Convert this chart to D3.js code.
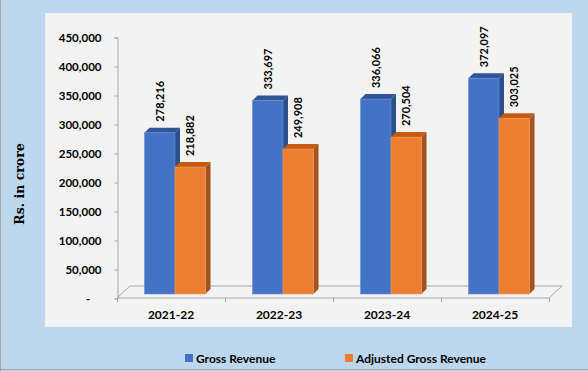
<!DOCTYPE html>
<html lang="en">
<head>
    <meta charset="utf-8">
    <title>Gross Revenue</title>
    <script src="https://cdnjs.cloudflare.com/ajax/libs/d3/7.8.5/d3.min.js"></script>
    <style>
        body { margin: 0; background: #fff; }
        svg text { font-family: Lato, "Open Sans", sans-serif; font-weight: bold; fill: #000; }
        .ytitle { font-family: "DejaVu Serif", serif; }
    </style>
</head>
<body>
<div id="chart"></div>
<script>
    // data
    var categories = ["2021-22", "2022-23", "2023-24", "2024-25"];
    var seriesNames = ["Gross Revenue", "Adjusted Gross Revenue"];
    var grossRevenue = [278216, 333697, 336066, 372097];
    var adjustedGrossRevenue = [218882, 249908, 270504, 303025];
    var yTicks = [0, 50000, 100000, 150000, 200000, 250000, 300000, 350000, 400000, 450000];

    var W = 588, H = 371;
    var colors = [
        {front: "#4472C4", top: "#2F5597", side: "#2B4F8C", edge: "#6A8FD4"},
        {front: "#ED7D31", top: "#C55A11", side: "#A5531C", edge: "#F29A5C"}
    ];

    var svg = d3.select("#chart").append("svg")
        .attr("width", W)
        .attr("height", H);

    // backgrounds
    svg.append("rect").attr("width", W).attr("height", H).attr("fill", "#BDD7EE");
    svg.append("line").attr("x1", 0.5).attr("x2", 0.5).attr("y1", 0).attr("y2", H)
        .attr("stroke", "#A6A6A6");
    svg.append("line").attr("x1", 0).attr("x2", W).attr("y1", 369.5).attr("y2", 369.5)
        .attr("stroke", "#A6A6A6");
    svg.append("rect").attr("x", 45).attr("y", 13).attr("width", 527).attr("height", 314)
        .attr("fill", "#F3F3F3");

    var plotLeft = 117, plotRight = 549, plotBase = 298, plotTop = 37;
    var depthX = 13, depthY = -12;   // floor depth
    var shiftX = 4, shiftY = -4;     // bars sit a bit inside the floor
    var barDX = 5, barDY = -5;       // bar depth

    var y = d3.scaleLinear().domain([0, 450000]).range([plotBase, plotTop]);
    var x = d3.scaleBand().domain(categories).range([plotLeft, plotRight])
        .paddingInner(0.435).paddingOuter(0.2175);
    var xs = d3.scaleBand().domain([0, 1]).range([0, x.bandwidth()]);

    // floor
    svg.append("path")
        .attr("d", "M" + plotLeft + "," + plotBase + "L" + (plotLeft + depthX) + "," + (plotBase + depthY) +
            "L" + (plotRight + depthX) + "," + (plotBase + depthY) + "L" + plotRight + "," + plotBase + "Z")
        .attr("fill", "#F3F3F3")
        .attr("stroke", "#A6A6A6")
        .attr("stroke-width", 1);

    // y axis
    var yAxis = d3.axisLeft(y).tickValues(yTicks).tickSize(3).tickPadding(13)
        .tickFormat(function(d) { return d === 0 ? "-    " : d3.format(",")(d); });
    var gy = svg.append("g").attr("transform", "translate(" + (plotLeft + 0.5) + ",0.5)").call(yAxis);
    gy.select(".domain").attr("stroke", "#A6A6A6");
    gy.selectAll(".tick line").attr("stroke", "#A6A6A6");
    gy.selectAll("text").style("font-size", "11.5px").attr("dy", "0.35em")
        .style("white-space", "pre");

    // x axis ticks at category boundaries
    var bounds = d3.range(categories.length + 1).map(function(i) { return plotLeft + i * x.step(); });
    svg.selectAll("line.xtick").data(bounds).enter().append("line")
        .attr("class", "xtick")
        .attr("x1", function(d) { return d + 0.5; })
        .attr("x2", function(d) { return d + 0.5; })
        .attr("y1", plotBase).attr("y2", plotBase + 4)
        .attr("stroke", "#A6A6A6");

    svg.selectAll("text.xlab").data(categories).enter().append("text")
        .attr("class", "xlab")
        .attr("x", function(d) { return x(d) + x.bandwidth() / 2; })
        .attr("y", 319)
        .attr("text-anchor", "middle")
        .style("font-size", "12px")
        .text(function(d) { return d; });

    // bars
    var rows = [];
    categories.forEach(function(c, i) {
        rows.push({cat: c, s: 0, v: grossRevenue[i]});
        rows.push({cat: c, s: 1, v: adjustedGrossRevenue[i]});
    });

    var bar = svg.selectAll("g.bar").data(rows).enter().append("g").attr("class", "bar");

    bar.each(function(d) {
        var g = d3.select(this);
        var x0 = x(d.cat) + xs(d.s) + shiftX;
        var x1 = x0 + xs.bandwidth();
        var y0 = y(0) + shiftY;
        var y1 = y(d.v) + shiftY;
        var c = colors[d.s];
        // side
        g.append("path")
            .attr("d", "M" + x1 + "," + y1 + "L" + (x1 + barDX) + "," + (y1 + barDY) +
                "L" + (x1 + barDX) + "," + (y0 + barDY) + "L" + x1 + "," + y0 + "Z")
            .attr("fill", c.side);
        // top
        g.append("path")
            .attr("d", "M" + x0 + "," + y1 + "L" + (x0 + barDX) + "," + (y1 + barDY) +
                "L" + (x1 + barDX) + "," + (y1 + barDY) + "L" + x1 + "," + y1 + "Z")
            .attr("fill", c.top);
        // front
        g.append("rect")
            .attr("x", x0).attr("y", y1)
            .attr("width", xs.bandwidth()).attr("height", y0 - y1)
            .attr("fill", c.front)
            .attr("stroke", c.edge)
            .attr("stroke-width", 0.6);
        // value label
        var lx = (x0 + x1) / 2 + 4, ly = y1 + barDY - 6;
        g.append("text")
            .attr("transform", "translate(" + lx + "," + ly + ") rotate(-90)")
            .attr("text-anchor", "start")
            .style("font-size", "11px")
            .text(d3.format(",")(d.v));
    });

    // y title
    svg.append("text")
        .attr("class", "ytitle")
        .attr("transform", "translate(24,184) rotate(-90)")
        .attr("text-anchor", "middle")
        .style("font-size", "12.5px")
        .text("Rs. in crore");

    // legend
    var legendX = [185, 345];
    var lg = svg.selectAll("g.legend").data(seriesNames).enter().append("g")
        .attr("class", "legend")
        .attr("transform", function(d, i) { return "translate(" + legendX[i] + ",354)"; });
    lg.append("rect").attr("width", 8).attr("height", 8)
        .attr("fill", function(d, i) { return colors[i].front; });
    lg.append("text").attr("x", 11).attr("y", 8.5)
        .style("font-size", "12px")
        .text(function(d) { return d; });
</script>
</body>
</html>
